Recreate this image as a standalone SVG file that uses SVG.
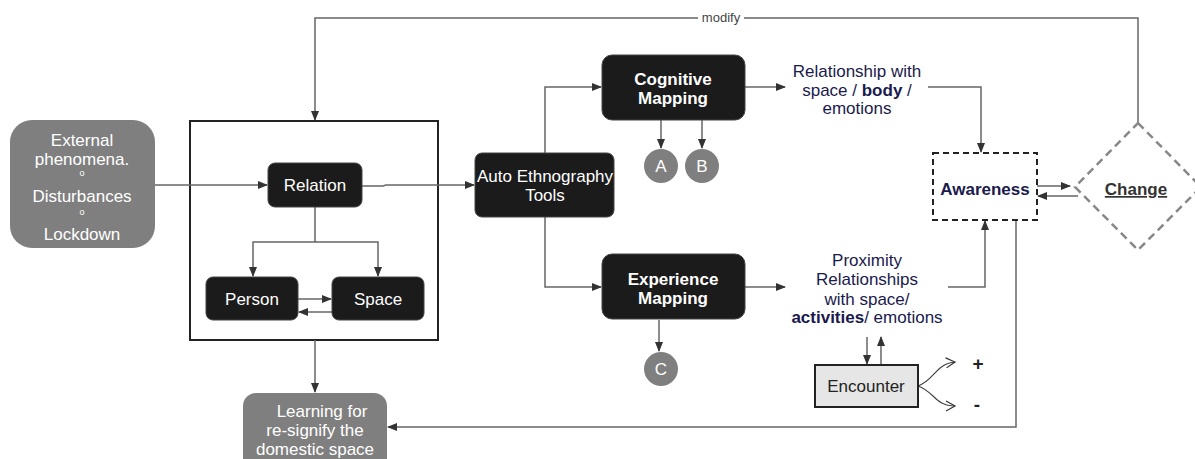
<svg xmlns="http://www.w3.org/2000/svg" width="1195" height="459" viewBox="0 0 1195 459">
<style>
text{font-family:"Liberation Sans",Arial,sans-serif;font-size:17px;text-anchor:middle}
.w{fill:#fff}
.b{font-weight:bold}
.n{fill:#1a1a4d}
.dk{fill:#1b1b1b;stroke:#444;stroke-width:1}
.gr{fill:#7f7f7f}
.ln{fill:none;stroke:#666;stroke-width:1.5}
.ah{marker-end:url(#ar)}
</style>
<defs>
<marker id="ar" markerWidth="10" markerHeight="10" refX="9" refY="5" orient="auto" markerUnits="userSpaceOnUse"><path d="M0,1 L10,5 L0,9 Z" fill="#333"/></marker>
<marker id="oa" markerWidth="12" markerHeight="12" refX="10" refY="6" orient="auto" markerUnits="userSpaceOnUse"><path d="M1,1 L10,6 L1,11" fill="none" stroke="#333" stroke-width="1.2"/></marker>
</defs>
<rect width="1195" height="459" fill="#fff"/>

<g id="frame"><rect x="190" y="121" width="248" height="219" fill="none" stroke="#222" stroke-width="2"/></g>

<g id="connectors">
<polyline class="ln ah" points="1138,123 1138,18 315,18 315,120"/>
<rect x="698" y="10" width="46" height="14" fill="#fff"/>
<text x="721" y="22" style="font-size:13px;fill:#444">modify</text>
<line class="ln ah" x1="155" y1="185" x2="267" y2="185"/>
<polyline class="ln ah" points="362,186 383,186 386,185 474,185"/>
<polyline class="ln ah" points="315,207 315,242 253,242 253,276"/>
<polyline class="ln ah" points="315,242 378,242 378,276"/>
<line class="ln ah" x1="298" y1="299" x2="331" y2="299"/>
<line class="ln ah" x1="332" y1="312" x2="299" y2="312"/>
<line class="ln ah" x1="315" y1="340" x2="315" y2="392"/>
<polyline class="ln ah" points="545,153 545,87 601,87"/>
<polyline class="ln ah" points="545,217 545,287 601,287"/>
<line class="ln ah" x1="661" y1="120" x2="661" y2="148"/>
<line class="ln ah" x1="702" y1="120" x2="702" y2="148"/>
<line class="ln ah" x1="659" y1="320" x2="659" y2="351"/>
<line class="ln ah" x1="745" y1="87" x2="785" y2="87"/>
<line class="ln ah" x1="745" y1="287" x2="785" y2="287"/>
<polyline class="ln ah" points="928,87 981,87 981,152"/>
<polyline class="ln ah" points="948,287 985,287 985,221"/>
<line class="ln ah" x1="1037" y1="186" x2="1070" y2="186"/>
<polyline class="ln ah" points="1078,196 1062,196 1038,196"/>
<polyline class="ln ah" points="1016,220 1016,427 388,427"/>
<line class="ln ah" x1="867" y1="337" x2="867" y2="364"/>
<line class="ln ah" x1="881" y1="365" x2="881" y2="337"/>
<path d="M918,386 C935,380 935,364 955,362" fill="none" stroke="#444" stroke-width="1.2" marker-end="url(#oa)"/>
<path d="M918,386 C935,392 935,406 955,406" fill="none" stroke="#444" stroke-width="1.2" marker-end="url(#oa)"/>
</g>

<g id="external">
<rect class="gr" x="10" y="120" width="145" height="128" rx="22"/>
<text class="w" x="82" y="146">External</text>
<text class="w" x="82" y="165">phenomena.</text>
<text class="w" x="82" y="176" style="font-size:9px">o</text>
<text class="w" x="82" y="202">Disturbances</text>
<text class="w" x="82" y="215" style="font-size:9px">o</text>
<text class="w" x="82" y="240">Lockdown</text>
</g>

<g id="relation"><rect class="dk" x="268" y="163" width="94" height="44" rx="7"/><text class="w" x="315" y="191">Relation</text></g>
<g id="person"><rect class="dk" x="206" y="277" width="92" height="43" rx="7"/><text class="w" x="252" y="305">Person</text></g>
<g id="space"><rect class="dk" x="332" y="277" width="92" height="43" rx="7"/><text class="w" x="378" y="305">Space</text></g>

<g id="learning">
<rect class="gr" x="243" y="393" width="144" height="80" rx="13"/>
<text class="w" x="322" y="417">Learning for</text>
<text class="w" x="315" y="436">re-signify the</text>
<text class="w" x="315" y="455">domestic space</text>
</g>

<g id="auto"><rect class="dk" x="475" y="153" width="139" height="64" rx="7"/><text class="w" x="545" y="182">Auto Ethnography</text><text class="w" x="545" y="201">Tools</text></g>

<g id="cognitive"><rect class="dk" x="602" y="55" width="143" height="65" rx="10"/><text class="w b" x="673" y="85">Cognitive</text><text class="w b" x="673" y="104">Mapping</text></g>
<g id="experience"><rect class="dk" x="602" y="254" width="143" height="65" rx="10"/><text class="w b" x="673" y="285">Experience</text><text class="w b" x="673" y="304">Mapping</text></g>

<g id="A"><circle class="gr" cx="661" cy="166" r="17"/><text class="w" x="661" y="172">A</text></g>
<g id="B"><circle class="gr" cx="702" cy="166" r="17"/><text class="w" x="702" y="172">B</text></g>
<g id="C"><circle class="gr" cx="661" cy="369" r="17"/><text class="w" x="661" y="375">C</text></g>

<g id="rel-body">
<text class="n" x="857" y="77">Relationship with</text>
<text class="n" x="857" y="96">space / <tspan class="b">body</tspan> /</text>
<text class="n" x="857" y="114">emotions</text>
</g>

<g id="proximity">
<text class="n" x="867" y="266">Proximity</text>
<text class="n" x="867" y="285">Relationships</text>
<text class="n" x="867" y="305">with  space/</text>
<text class="n" x="867" y="323"><tspan class="b">activities</tspan>/ emotions</text>
</g>

<g id="awareness"><rect x="933" y="153" width="104" height="67" fill="none" stroke="#222" stroke-width="2" stroke-dasharray="6,4"/><text class="n b" x="985" y="195">Awareness</text></g>

<g id="change"><polygon points="1138,123 1201,187 1138,250 1075,187" fill="none" stroke="#888" stroke-width="2.5" stroke-dasharray="8,5"/><text class="b" x="1136" y="195" style="fill:#333;text-decoration:underline">Change</text></g>

<g id="encounter"><rect x="815" y="365" width="103" height="42" fill="#e6e6e6" stroke="#222" stroke-width="2"/><text x="866" y="392" style="fill:#222">Encounter</text></g>

<g id="plusminus"><text class="b" x="978" y="370" style="font-size:19px;fill:#222">+</text><text class="b" x="977" y="411" style="font-size:19px;fill:#222">-</text></g>
</svg>
